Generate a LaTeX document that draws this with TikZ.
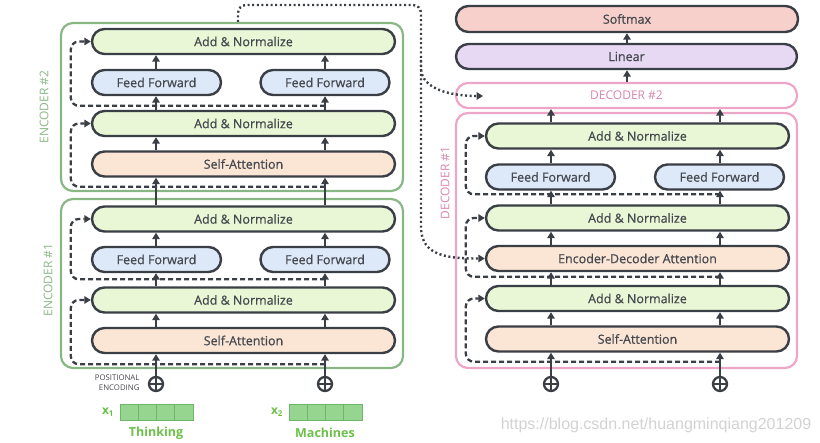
\documentclass[tikz,border=0pt]{standalone}
\usepackage{fontspec}
\setmainfont{Open Sans}
\newfontfamily\boxfont{Open Sans}[FakeBold=0.6]
\newfontfamily\markfont{Liberation Sans}
\usetikzlibrary{arrows.meta,calc}

\definecolor{edge}{HTML}{3A3E45}
\definecolor{ink}{HTML}{45484E}
\definecolor{anfill}{HTML}{EAF7D6}
\definecolor{fffill}{HTML}{DDE9F8}
\definecolor{safill}{HTML}{FBE6D6}
\definecolor{smfill}{HTML}{F7CFCB}
\definecolor{linfill}{HTML}{E7D8F4}
\definecolor{encgreen}{HTML}{88B784}
\definecolor{decpink}{HTML}{EDA6C8}
\definecolor{dectext}{HTML}{D885AF}
\definecolor{cellfill}{HTML}{96D590}
\definecolor{cellline}{HTML}{6DB568}
\definecolor{wordgreen}{HTML}{6CC04A}
\definecolor{markgray}{HTML}{D2D2D2}

\begin{document}
\begin{tikzpicture}[x=1pt, y=-1pt, >={Triangle[length=6.5pt,width=7.5pt]},
  layer/.style={draw=edge, line width=2.4pt, rounded corners=12.5pt, minimum height=25pt,
    inner sep=0pt, text=ink, font=\boxfont\fontsize{12.5}{14}\selectfont},
  addnorm/.style={layer, fill=anfill, minimum width=303pt},
  ffwd/.style={layer, fill=fffill, minimum width=129pt},
  selfatt/.style={layer, fill=safill, minimum width=303pt},
  encbox/.style={draw=encgreen, line width=2.2pt, rounded corners=12pt, minimum width=342pt},
  decbox/.style={draw=decpink, line width=2.2pt, rounded corners=12pt, minimum width=341pt},
  tag/.style={rotate=90, font=\fontsize{12}{14}\selectfont},
  flow/.style={->, draw=edge, line width=2pt},
  resid/.style={->, draw=edge, line width=2.3pt, dash pattern=on 5pt off 3pt, rounded corners=8pt},
  link/.style={->, draw=edge, line width=2.4pt, dash pattern=on 2pt off 2.6pt},
  plus/.style={circle, draw=edge, line width=2.3pt, minimum size=14pt, inner sep=0pt},
  cell/.style={draw=cellline, fill=cellfill, minimum width=18.25pt, minimum height=16pt, inner sep=0pt, line width=0.8pt},
  word/.style={text=wordgreen, font=\bfseries\fontsize{12.5}{14}\selectfont}
]
\useasboundingbox (0,0) rectangle (820,443);

% encoder stack
\node[encbox, minimum height=168pt] (enc2) at (232,107) {};
\node[encbox, minimum height=169pt] (enc1) at (232,283.5) {};
\node[tag, text=encgreen] at (44,107) {ENCODER \#2};
\node[tag, text=encgreen] at (48,280) {ENCODER \#1};

\node[addnorm] (e2an2) at (243.5,41.5) {Add \& Normalize};
\node[ffwd] (e2ffa) at (156.5,82.5) {Feed Forward};
\node[ffwd] (e2ffb) at (325,82.5) {Feed Forward};
\node[addnorm] (e2an1) at (243.5,123.5) {Add \& Normalize};
\node[selfatt] (e2sa) at (243.5,164) {Self-Attention};

\node[addnorm] (e1an2) at (243.5,219) {Add \& Normalize};
\node[ffwd] (e1ffa) at (156.5,259.5) {Feed Forward};
\node[ffwd] (e1ffb) at (325,259.5) {Feed Forward};
\node[addnorm] (e1an1) at (243.5,300) {Add \& Normalize};
\node[selfatt] (e1sa) at (243.5,340.5) {Self-Attention};

\node[plus] (pa) at (156,384) {};
\node[plus] (pb) at (325,384) {};
\node[align=right, anchor=east, text=ink, font=\fontsize{7.8}{10}\selectfont] at (143,383) {POSITIONAL\\ENCODING};

% inputs
\foreach \i in {0,...,3} {
  \node[cell] (xa\i) at (129.1+18.25*\i,412) {};
  \node[cell] (xb\i) at (298.1+18.25*\i,412) {};
}
\node[word, anchor=east, font=\bfseries\fontsize{12}{14}\selectfont] at (xa0.west) {x\textsubscript{1}\,};
\node[word, anchor=east, font=\bfseries\fontsize{12}{14}\selectfont] at (xb0.west) {x\textsubscript{2}\,};
\node[word] at (156,433) {Thinking};
\node[word] at (325,433) {Machines};

% decoder stack
\node[layer, fill=smfill, minimum width=342pt, minimum height=26pt] (soft) at (627,19) {Softmax};
\node[layer, fill=linfill, minimum width=341pt] (lin) at (626.5,56.5) {Linear};
\node[decbox, minimum height=25pt, text=dectext, font=\fontsize{12}{14}\selectfont] (dec2) at (626.5,95.5) {DECODER \#2};
\node[decbox, minimum height=255pt] (dec1) at (626.5,240.5) {};
\node[tag, text=dectext] at (445,183) {DECODER \#1};

\node[addnorm] (d1an3) at (637.5,136) {Add \& Normalize};
\node[ffwd] (d1ffa) at (550.5,177) {Feed Forward};
\node[ffwd] (d1ffb) at (719.5,177) {Feed Forward};
\node[addnorm] (d1an2) at (637.5,218) {Add \& Normalize};
\node[selfatt] (d1eda) at (637.5,258.5) {Encoder-Decoder Attention};
\node[addnorm] (d1an1) at (637.5,298.5) {Add \& Normalize};
\node[selfatt] (d1sa) at (637.5,339) {Self-Attention};

\node[plus] (qa) at (551,384) {};
\node[plus] (qb) at (720,384) {};

\foreach \p in {pa,pb,qa,qb}
  \draw[edge, line width=2pt] (\p.north) -- (\p.south) (\p.west) -- (\p.east);

% straight arrows
\foreach \c/\s in {156/a, 325/b} {
  \draw[flow] (p\s) -- (\c,0 |- e1sa.south);
  \draw[flow] (\c,0 |- e1sa.north) -- (\c,0 |- e1an1.south);
  \draw[flow] (\c,0 |- e1an1.north) -- (\c,0 |- e1ff\s.south);
  \draw[flow] (\c,0 |- e1ff\s.north) -- (\c,0 |- e1an2.south);
  \draw[flow] (\c,0 |- e1an2.north) -- (\c,0 |- e2sa.south);
  \draw[flow] (\c,0 |- e2sa.north) -- (\c,0 |- e2an1.south);
  \draw[flow] (\c,0 |- e2an1.north) -- (\c,0 |- e2ff\s.south);
  \draw[flow] (\c,0 |- e2ff\s.north) -- (\c,0 |- e2an2.south);
}
\foreach \c/\s in {551/a, 720/b} {
  \draw[flow] (q\s) -- (\c,0 |- d1sa.south);
  \draw[flow] (\c,0 |- d1sa.north) -- (\c,0 |- d1an1.south);
  \draw[flow] (\c,0 |- d1an1.north) -- (\c,0 |- d1eda.south);
  \draw[flow] (\c,0 |- d1eda.north) -- (\c,0 |- d1an2.south);
  \draw[flow] (\c,0 |- d1an2.north) -- (\c,0 |- d1ff\s.south);
  \draw[flow] (\c,0 |- d1ff\s.north) -- (\c,0 |- d1an3.south);
  \draw[flow] (\c,0 |- d1an3.north) -- (\c,0 |- dec2.south);
}
\draw[flow] (dec2.north -| 627,0) -- (lin.south -| 627,0);
\draw[flow] (lin.north -| 627,0) -- (soft.south -| 627,0);

% residual paths
\draw[resid] ($(325,0 |- e2sa.south)+(0,9)$) -| ($(e2an1.west)+(-20,0)$) -- (e2an1.west);
\draw[resid] ($(325,0 |- e2an1.north)+(0,-4)$) -| ($(e2an2.west)+(-20,0)$) -- (e2an2.west);
\draw[resid] ($(325,0 |- e1sa.south)+(0,10)$) -| ($(e1an1.west)+(-20,0)$) -- (e1an1.west);
\draw[resid] ($(325,0 |- e1an1.north)+(0,-7)$) -| ($(e1an2.west)+(-20,0)$) -- (e1an2.west);
\draw[resid] ($(720,0 |- d1sa.south)+(0,9)$) -| ($(d1an1.west)+(-19,0)$) -- (d1an1.west);
\draw[resid] ($(720,0 |- d1an1.north)+(0,-8)$) -| ($(d1an2.west)+(-19,0)$) -- (d1an2.west);
\draw[resid] ($(720,0 |- d1an2.north)+(0,-10)$) -| ($(d1an3.west)+(-19,0)$) -- (d1an3.west);

% encoder output to decoders
\coordinate (bus) at (421,5);
\coordinate (d2in) at (483,96);
\draw[link] (enc2.north -| 238,0) [rounded corners=8pt] |- (bus) -- ++(0,55)
  [sharp corners] .. controls +(0,30) and +(-30,0) .. (d2in);
\draw[link] ($(bus)+(0,55)$) -- ($(bus)+(0,222)$) .. controls +(0,30) and +(-35,0) .. (d1eda.west);

\node[text=markgray, font=\markfont\fontsize{16}{18}\selectfont] at (656,425) {https://blog.csdn.net/huangminqiang201209};
\end{tikzpicture}
\end{document}
